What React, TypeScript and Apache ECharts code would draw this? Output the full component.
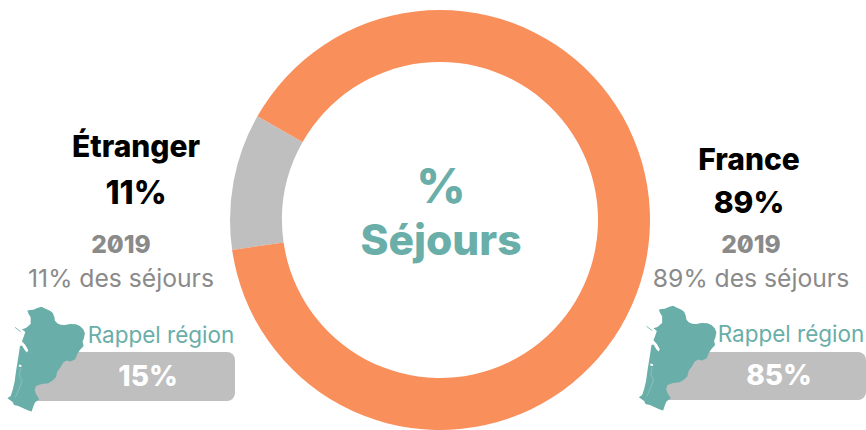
import React, { useEffect, useRef } from "react";
import * as echarts from "echarts";

const categories = ["Étranger", "France"];
const values = [10.5, 89.5];
const shareLabels = ["11%", "89%"];
const sliceColors = ["#bfbfbf", "#f98f5b"];
const recall2019 = ["11% des séjours", "89% des séjours"];
const regionRecall = ["15%", "85%"];
const TEAL = "#69aea8";
const GREY = "#8a8a8a";

// Decorative outline of the Nouvelle-Aquitaine region (local units, drawn at 1/3 scale)
const regionOutline: [number, number][] = [
  [82, 32], [90, 30], [100, 29], [112, 24], [125, 20], [132, 24], [140, 28], [150, 32], [158, 38], [163, 50], [165, 62],
  [172, 70], [182, 74], [195, 75], [210, 72], [228, 73], [240, 78], [250, 88], [255, 100], [252, 115], [248, 125],
  [251, 138], [240, 150], [232, 162], [226, 178], [212, 185], [200, 182], [190, 188], [180, 205], [172, 215], [168, 232],
  [158, 242], [145, 250], [125, 252], [108, 258], [104, 270], [108, 282], [118, 298], [105, 308], [100, 320], [95, 335],
  [85, 332], [70, 325], [55, 318], [42, 315], [38, 306], [22, 295], [32, 288], [38, 270], [44, 245], [48, 215], [52, 190],
  [56, 165], [60, 138], [66, 137], [74, 150], [81, 158], [85, 151], [76, 135], [66, 124], [72, 108], [76, 96], [66, 88],
  [78, 84], [92, 72], [92, 52], [86, 42],
];
const islandLine: [number, number][] = [[45, 82], [62, 95]];
const lagoonLine: [number, number][] = [[62, 205], [58, 225], [66, 245], [56, 270], [46, 292]];
const bayOutline: [number, number][] = [[57, 194], [65, 196], [64, 201], [56, 200]];

const text = (t: string, x: number, y: number, fontSize: number, fontWeight: number, fill: string) => ({
  type: "text", x, y,
  style: { text: t, fontSize, fontWeight, fill, fontFamily: "Inter", align: "center", verticalAlign: "middle" },
});

const regionMap = (x: number, y: number) => ({
  type: "group", x, y, scaleX: 1 / 3, scaleY: 1 / 3,
  children: [
    { type: "polygon", shape: { points: regionOutline }, style: { fill: TEAL } },
    { type: "polyline", shape: { points: islandLine }, style: { stroke: TEAL, lineWidth: 2.5, fill: "none" } },
    { type: "polyline", shape: { points: lagoonLine }, style: { stroke: "#a9d0cc", lineWidth: 1.5, fill: "none" } },
    { type: "polygon", shape: { points: bayOutline }, style: { fill: "#ffffff" } },
  ],
});

export default function App() {
  const ref = useRef<HTMLDivElement>(null);
  useEffect(() => {
    const chart = echarts.init(ref.current!, undefined, { renderer: "svg" });
    chart.setOption({
      animation: false,
      backgroundColor: "#ffffff",
      series: [{
        type: "pie",
        center: [440, 220],
        radius: [158, 210],
        startAngle: 188.2,
        clockwise: true,
        silent: true,
        label: { show: false },
        labelLine: { show: false },
        data: categories.map((name, i) => ({ name, value: values[i], itemStyle: { color: sliceColors[i] } })),
      }],
      graphic: [
        text("%", 441, 185, 48, 800, TEAL),
        text("Séjours", 441, 239, 42.5, 800, TEAL),

        text(categories[0], 136, 146, 30, 800, "#000000"),
        text(shareLabels[0], 136, 192, 32, 800, "#000000"),
        text("2019", 121, 244, 24.5, 800, GREY),
        text(recall2019[0], 121, 278, 24.7, 400, GREY),
        { type: "rect", shape: { x: 30, y: 352, width: 205, height: 49, r: 8 }, style: { fill: "#bfbfbf" } },
        regionMap(0, 300),
        text("Rappel région", 161, 334, 22.5, 400, TEAL),
        text(regionRecall[0], 148, 376, 28, 800, "#ffffff"),

        text(categories[1], 749, 159, 30, 800, "#000000"),
        text(shareLabels[1], 749, 202, 30, 800, "#000000"),
        text("2019", 751, 244, 24.5, 800, GREY),
        text(recall2019[1], 751, 278, 24.7, 400, GREY),
        { type: "rect", shape: { x: 660, y: 352, width: 206, height: 48, r: 8 }, style: { fill: "#bfbfbf" } },
        regionMap(631.5, 299),
        text("Rappel région", 791, 333, 22.5, 400, TEAL),
        text(regionRecall[1], 779, 375, 28, 800, "#ffffff"),
      ],
    });
    return () => chart.dispose();
  }, []);
  return (
    <div
      ref={ref}
      style={{ position: "absolute", left: 0, top: 0, width: 866, height: 430, fontFeatureSettings: '"zero"' }}
    />
  );
}
